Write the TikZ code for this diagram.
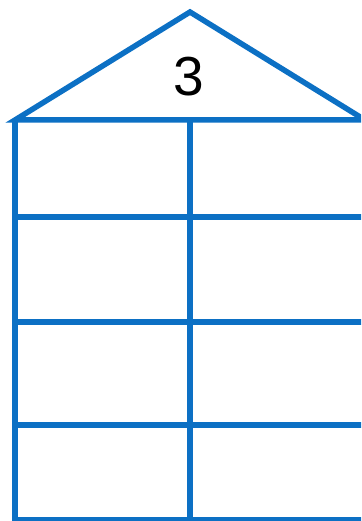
\documentclass[tikz,border=0pt]{standalone}
\usepackage{fontspec}
\setmainfont{Liberation Sans}
\usepackage{tikz}
\usetikzlibrary{positioning}
\definecolor{houseblue}{RGB}{12,112,196}
\tikzset{houseline/.style={draw=houseblue, line width=5.5pt, line join=miter}}
\tikzset{font=\normalsize}

\begin{document}
\begin{tikzpicture}[x=1pt,y=-1pt]
          \useasboundingbox (0,0) rectangle (361,521);
          \clip (0,0) rectangle (361,521);
          % roof
          \draw[houseline] (15,120) -- (190,12) -- (365,120) -- cycle;
          \node (num) at (189,77) {\fontsize{55}{60}\selectfont 3};
          % walls
          \draw[houseline] (15,120) -- (15,520) -- (365,520) -- (365,120);
          \draw[houseline] (190,120) -- (190,520);
          \foreach \y in {217,322,425}
            \draw[houseline] (15,\y) -- (365,\y);
        \end{tikzpicture}
\end{document}
